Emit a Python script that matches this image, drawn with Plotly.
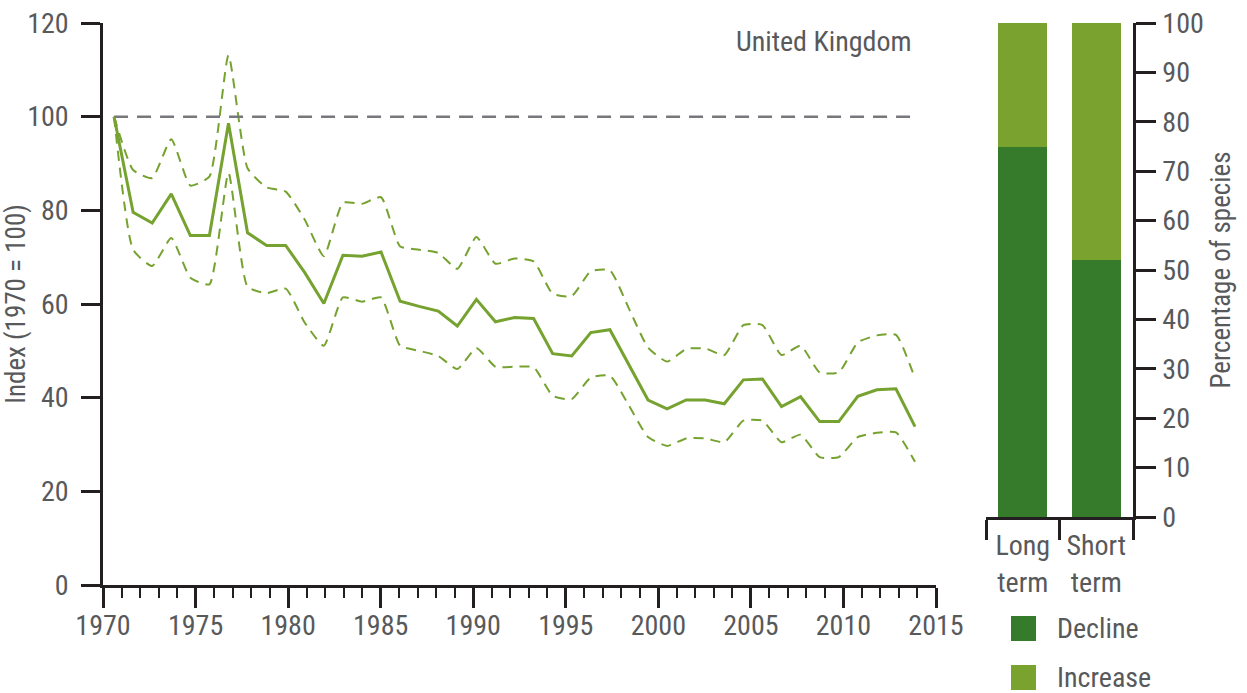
import plotly.graph_objects as go

# ---------------- data ----------------
years = list(range(1970, 2013))
index_mid = [100, 79.6, 77.3, 83.5, 74.6, 74.6, 98.6, 75.2, 72.5, 72.5,
             66.7, 60.1, 70.4, 70.2, 71.1, 60.6, 59.5, 58.5, 55.3, 61.0,
             56.2, 57.1, 56.9, 49.4, 48.9, 53.9, 54.5, 47.0, 39.5, 37.6,
             39.5, 39.5, 38.7, 43.8, 44.0, 38.1, 40.2, 34.9, 34.9, 40.3,
             41.7, 41.9, 33.8]
index_upper = [100, 88.6, 86.9, 95.2, 85.3, 87.2, 113.1, 89.0, 84.9, 84.0,
               78.0, 70.2, 81.6, 81.4, 82.8, 72.3, 71.6, 70.9, 67.5, 74.3,
               68.6, 69.7, 69.1, 62.2, 61.7, 67.0, 67.2, 59.0, 50.7, 47.7,
               50.4, 50.5, 49.1, 55.5, 55.5, 49.1, 51.1, 45.4, 45.4, 51.8,
               53.3, 53.4, 44.1]
index_lower = [100, 71.6, 68.1, 74.1, 65.6, 64.2, 88.0, 63.7, 62.3, 63.3,
               56.0, 51.1, 61.4, 60.5, 61.4, 51.1, 50.0, 48.9, 46.1, 50.6,
               46.6, 46.6, 46.5, 40.4, 39.7, 44.3, 44.7, 38.3, 31.6, 29.7,
               31.3, 31.3, 30.5, 35.1, 35.1, 30.5, 32.1, 27.3, 27.3, 31.6,
               32.5, 32.6, 26.3]
baseline = 100
tick_years = [1970, 2015]

bar_categories = ["Long<br>term", "Short<br>term"]
decline_pct = [75, 52]
increase_pct = [25, 48]

region_label = "United Kingdom"
left_title = "Index (1970 = 100)"
right_title = "Percentage of species"
legend_labels = ["Decline", "Increase"]

# ---------------- style ----------------
W, H = 1247, 693
FONT = "Liberation Sans Narrow, Arial Narrow, Roboto Condensed, DejaVu Sans Condensed, sans-serif"
TXT = "#58595b"
AX = "#231f20"
LINE_G = "#76a22f"
DECL = "#367a2c"
INCR = "#7aa22f"
FS = 28


def px_x(p):
    return p / W


def px_y(p):
    return 1 - p / H


left_dom = [px_x(103), px_x(936)]
left_ydom = [px_y(585), px_y(23)]
bar_dom = [px_x(986), px_x(1133)]
bar_ydom = [px_y(517), px_y(23)]

fig = go.Figure()

# invisible trace that carries the labelled year axis
fig.add_trace(go.Scatter(x=tick_years, y=[0, 0], mode="lines", xaxis="x2", yaxis="y",
                         line=dict(width=0, color="rgba(0,0,0,0)"),
                         showlegend=False, hoverinfo="skip"))

fig.add_trace(go.Scatter(x=years, y=index_upper, mode="lines", xaxis="x", yaxis="y",
                         line=dict(color=LINE_G, width=2, dash="10px,7px", shape="spline", smoothing=0.5),
                         showlegend=False, hoverinfo="skip"))
fig.add_trace(go.Scatter(x=years, y=index_lower, mode="lines", xaxis="x", yaxis="y",
                         line=dict(color=LINE_G, width=2, dash="10px,7px", shape="spline", smoothing=0.5),
                         showlegend=False, hoverinfo="skip"))
fig.add_trace(go.Scatter(x=[years[0], years[-1]], y=[baseline, baseline], mode="lines",
                         xaxis="x", yaxis="y",
                         line=dict(color="#77787b", width=2.5, dash="14px,9px"),
                         showlegend=False, hoverinfo="skip"))
fig.add_trace(go.Scatter(x=years, y=index_mid, mode="lines", xaxis="x", yaxis="y",
                         line=dict(color=LINE_G, width=3),
                         showlegend=False))

fig.add_trace(go.Bar(x=bar_categories, y=decline_pct, name=legend_labels[0],
                     marker=dict(color=DECL, line=dict(width=0)), xaxis="x3", yaxis="y3",
                     showlegend=False))
fig.add_trace(go.Bar(x=bar_categories, y=increase_pct, name=legend_labels[1],
                     marker=dict(color=INCR, line=dict(width=0)), xaxis="x3", yaxis="y3",
                     showlegend=False))

tickfont = dict(family=FONT, size=FS, color=TXT)

fig.update_layout(
    template="none",
    width=W, height=H,
    margin=dict(l=0, r=0, t=0, b=0, autoexpand=False),
    paper_bgcolor="white", plot_bgcolor="rgba(0,0,0,0)",
    font=dict(family=FONT, size=FS, color=TXT),
    barmode="stack", bargap=0.338,
    xaxis=dict(domain=left_dom, anchor="y", range=[1969.42, 2013.10], visible=False,
               showgrid=False, zeroline=False, automargin=False),
    xaxis2=dict(overlaying="x", anchor="y", range=tick_years,
                tickmode="linear", tick0=1970, dtick=5,
                ticks="outside", ticklen=20, tickwidth=2.5, tickcolor=AX,
                showline=True, linewidth=2.5, linecolor=AX,
                showgrid=False, zeroline=False, tickfont=tickfont,
                ticklabelstandoff=-6, automargin=False,
                minor=dict(tick0=1970, dtick=1, ticks="outside", ticklen=10,
                           tickwidth=2, tickcolor=AX, showgrid=False)),
    yaxis=dict(domain=left_ydom, anchor="x", range=[0, 120], tickmode="linear", tick0=0, dtick=20,
               ticks="outside", ticklen=19, tickwidth=2.5, tickcolor=AX,
               showline=True, linewidth=2.5, linecolor=AX, showgrid=False, zeroline=False,
               tickfont=tickfont, ticklabelstandoff=7, automargin=False,
               title=dict(text=left_title, font=dict(family=FONT, size=27, color=TXT), standoff=0)),
    xaxis3=dict(domain=bar_dom, anchor="y3", type="category", range=[-0.5, 1.5],
                tickson="boundaries", ticks="outside", ticklen=20, tickwidth=2.5, tickcolor=AX,
                showline=True, linewidth=2.5, linecolor=AX, showgrid=False, zeroline=False,
                tickfont=tickfont, ticklabelstandoff=2, automargin=False),
    yaxis3=dict(domain=bar_ydom, anchor="x3", side="right", range=[0, 100],
                tickmode="linear", tick0=0, dtick=10,
                ticks="outside", ticklen=20, tickwidth=2.5, tickcolor=AX,
                showline=True, linewidth=2.5, linecolor=AX, showgrid=False, zeroline=False,
                tickfont=tickfont, ticklabelstandoff=1, automargin=False,
                title=dict(text=right_title, font=dict(family=FONT, size=27, color=TXT), standoff=9)),
)

fig.add_annotation(text=region_label, xref="paper", yref="paper",
                   x=px_x(914), y=px_y(42), xanchor="right", yanchor="middle",
                   showarrow=False, font=dict(family=FONT, size=FS, color=TXT))

# legend keys
for lbl, col, top in [(legend_labels[0], DECL, 616), (legend_labels[1], INCR, 665)]:
    fig.add_shape(type="rect", xref="paper", yref="paper",
                  x0=px_x(1011), x1=px_x(1036), y0=px_y(top + 25), y1=px_y(top),
                  fillcolor=col, line=dict(width=0))
    fig.add_annotation(text=lbl, xref="paper", yref="paper",
                       x=px_x(1055), y=px_y(top + 12.5), xanchor="left", yanchor="middle",
                       showarrow=False, font=dict(family=FONT, size=FS, color=TXT))

fig.write_html("out.html", config={"displayModeBar": False},
               post_script="document.body.style.margin='0';document.body.style.overflow='hidden';")
